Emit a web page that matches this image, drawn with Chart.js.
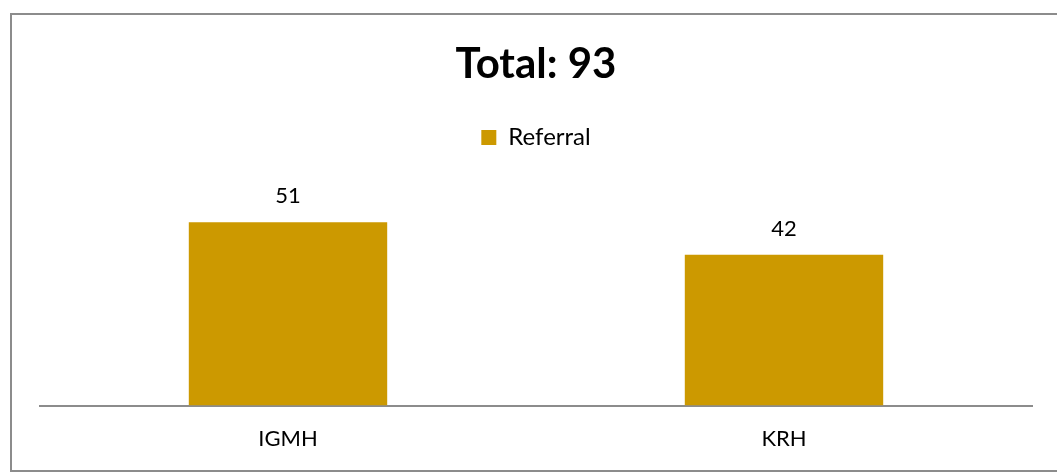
<!DOCTYPE html>
<html>
<head>
<meta charset="utf-8">
<script src="https://cdn.jsdelivr.net/npm/chart.js@4"></script>
<style>
  html, body { margin: 0; padding: 0; background: #ffffff; }
  #wrap { position: relative; width: 1057px; height: 475px; }
</style>
</head>
<body>
<div id="wrap"><canvas id="c" width="1057" height="475"></canvas></div>
<script>
const categories = ["IGMH", "KRH"];
const seriesName = "Referral";
const referralValues = [51, 42];
const titleText = "Total: 93";

const BAR_COLOR = "#CC9900";
const FONT = "Lato";

const frame = {
  id: "frame",
  beforeDraw(chart) {
    const ctx = chart.ctx;
    ctx.save();
    ctx.fillStyle = "#ffffff";
    ctx.fillRect(0, 0, chart.width, chart.height);
    ctx.strokeStyle = "#8c8c8c";
    ctx.lineWidth = 2;
    ctx.strokeRect(11, 14, chart.width + 20, 457);
    ctx.restore();
  }
};

const valueLabels = {
  id: "valueLabels",
  afterDatasetsDraw(chart) {
    const ctx = chart.ctx;
    ctx.save();
    ctx.font = "22px " + FONT;
    ctx.fillStyle = "#000000";
    ctx.textAlign = "center";
    ctx.textBaseline = "alphabetic";
    chart.data.datasets.forEach((ds, i) => {
      chart.getDatasetMeta(i).data.forEach((bar, j) => {
        ctx.fillText(String(ds.data[j]), bar.x, bar.y - 19);
      });
    });
    ctx.restore();
  }
};

new Chart(document.getElementById("c"), {
  type: "bar",
  data: {
    labels: categories,
    datasets: [{
      label: seriesName,
      data: referralValues,
      backgroundColor: BAR_COLOR,
      borderWidth: 0,
      barPercentage: 0.4,
      categoryPercentage: 1.0
    }]
  },
  options: {
    responsive: false,
    animation: false,
    devicePixelRatio: 1,
    layout: { padding: { left: 40, right: 25, top: 0, bottom: 3 } },
    plugins: {
      title: {
        display: true,
        text: titleText,
        color: "#000000",
        font: { family: FONT, size: 42, weight: "bold" },
        padding: { top: 39, bottom: 26 }
      },
      legend: {
        display: true,
        position: "top",
        labels: {
          color: "#000000",
          font: { family: FONT, size: 24 },
          boxWidth: 15,
          boxHeight: 15,
          padding: 10
        }
      },
      tooltip: { enabled: false }
    },
    scales: {
      x: {
        grid: { display: false, drawTicks: false },
        border: { display: true, color: "#8c8c8c", width: 2 },
        ticks: { color: "#000000", font: { family: FONT, size: 22 }, padding: 20 }
      },
      y: {
        display: false,
        min: 0,
        max: 68.5
      }
    }
  },
  plugins: [frame, valueLabels]
});
</script>
</body>
</html>
